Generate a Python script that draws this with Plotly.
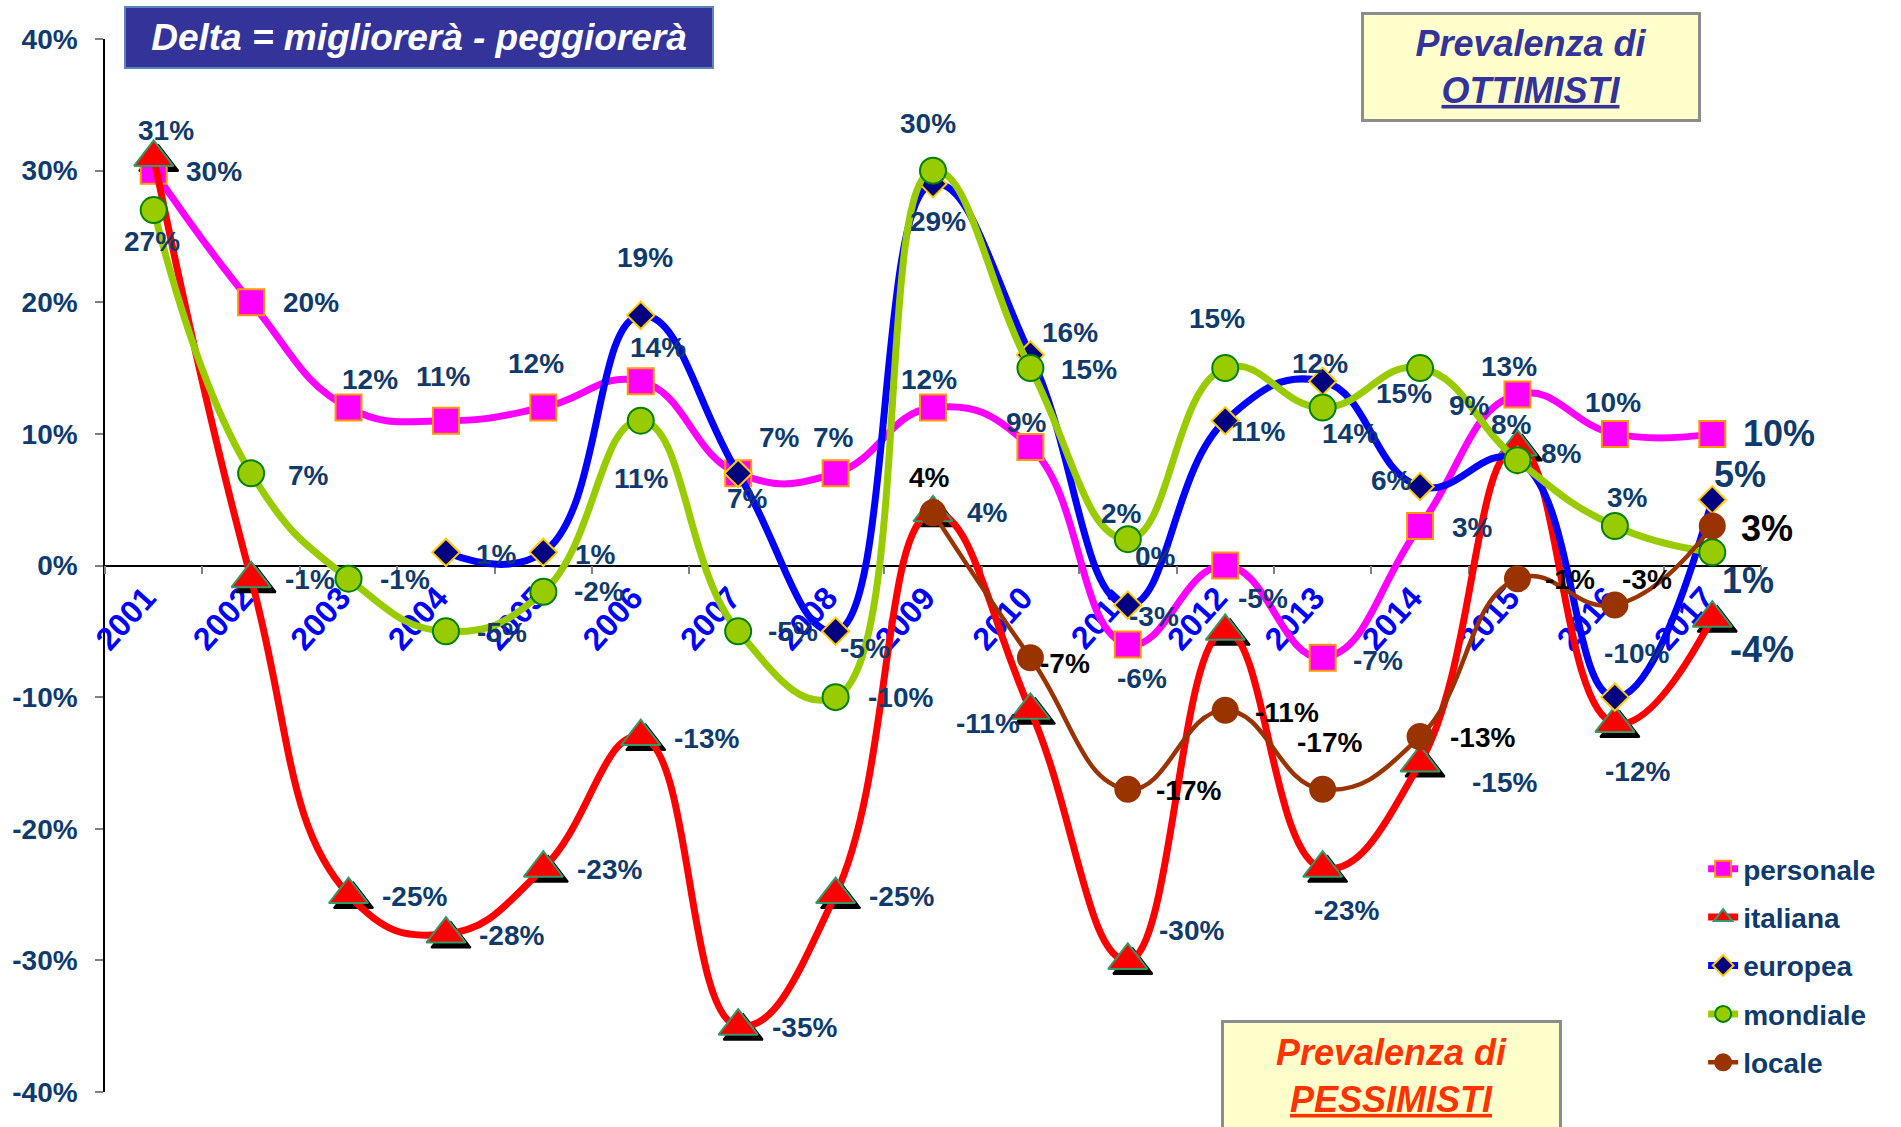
import plotly.graph_objects as go

# ---- data -------------------------------------------------------------
years = ["2001", "2002", "2003", "2004", "2005", "2006", "2007", "2008", "2009",
         "2010", "2011", "2012", "2013", "2014", "2015", "2016", "2017"]

personale = [30, 20, 12, 11, 12, 14, 7, 7, 12, 9, -6, 0, -7, 3, 13, 10, 10]
italiana = [31, -1, -25, -28, -23, -13, -35, -25, 4, -11, -30, -5, -23, -15, 9, -12, -4]
europea = [None, None, None, 1, 1, 19, 7, -5, 29, 16, -3, 11, 14, 6, 8, -10, 5]
mondiale = [27, 7, -1, -5, -2, 11, -5, -10, 30, 15, 2, 15, 12, 15, 8, 3, 1]
locale = [None, None, None, None, None, None, None, None, 4, -7, -17, -11, -17, -13, -1, -3, 3]

y_tick_values = [40, 30, 20, 10, 0, -10, -20, -30, -40]
y_tick_labels = ["40%", "30%", "20%", "10%", "0%", "-10%", "-20%", "-30%", "-40%"]

# category slots along the x axis
xpos = list(range(len(years)))

# ---- label placement (pixel offsets from each point: dx right, dy down) --
label_offsets = {
    "personale": [(60, 1), (60, 0), (21, -28), (-2, -44), (-7, -44), (17, -34), (41, -36),
                  (-2, -36), (-4, -28), (-4, -25), (14, 34), (-70, -9), (55, 3), (52, 1),
                  (-8, -28), (-2, -31), (67, 0)],
    "italiana": [(12, -27), (59, 1), (66, 2), (66, 1), (66, 1), (66, 2), (66, 1), (66, 2),
                 (54, 0), (-42, 13), (64, -30), (38, -33), (24, 42), (84, 20), (-48, -42),
                 (23, 48), (50, 31)],
    "europea": [None, None, None, (51, 2), (52, 2), (4, -58), (9, 25), (29, 17), (5, 38),
                (40, -22), (26, 12), (33, 11), (27, 52), (-29, -6), (-6, -36), (22, -44),
                (28, -25)],
    "mondiale": [(-2, 31), (57, 2), (56, 1), (56, 1), (56, 0), (1, 58), (55, 0), (65, 0),
                 (-5, -47), (59, 1), (-6, -26), (-8, -50), (-3, -44), (-16, 25), (44, -7),
                 (13, -29), (36, 28)],
    "locale": [None, None, None, None, None, None, None, None, (-4, -35), (35, 6), (61, 1),
               (62, 2), (7, -47), (62, 1), (53, 1), (32, -25), (55, 2)],
}

NAVY = "#0F3A6B"
FONT = "Liberation Sans, Arial, sans-serif"

series = [
    dict(name="personale", values=personale, color="#FF00FF", width=7,
         symbol="square", size=26, fill="#FF00FF", edge="#FF9900", text=NAVY),
    dict(name="italiana", values=italiana, color="#FF0000", width=7,
         symbol="triangle-up", size=34, fill="#FF0000", edge="#339966", text=NAVY),
    dict(name="europea", values=europea, color="#0000FF", width=7,
         symbol="diamond", size=21, fill="#000080", edge="#FFCC00", text=NAVY),
    dict(name="mondiale", values=mondiale, color="#99CC00", width=7,
         symbol="circle", size=26, fill="#99CC00", edge="#008000", text=NAVY),
    dict(name="locale", values=locale, color="#993300", width=4.5,
         symbol="circle", size=25, fill="#993300", edge="#993300", text="#000000"),
]

fig = go.Figure()

# drop shadow under the italiana triangles (its own overlay, range nudged by 5 px)
fig.add_trace(go.Scatter(
    x=xpos, y=italiana, mode="markers", xaxis="x2", yaxis="y2",
    showlegend=False, legendgroup="shadow", hoverinfo="skip",
    marker=dict(symbol="triangle-up", size=34, color="#000000",
                line=dict(color="#000000", width=2)),
))

for s in series:
    fig.add_trace(go.Scatter(
        x=xpos, y=s["values"], name=s["name"], legendgroup=s["name"],
        mode="lines+markers", xaxis="x3", yaxis="y3",
        line=dict(color=s["color"], width=s["width"], shape="spline", smoothing=1.3),
        marker=dict(symbol=s["symbol"], size=s["size"], color=s["fill"],
                    line=dict(color=s["edge"], width=2)),
    ))

# ---- value labels -----------------------------------------------------
annotations = []
last = len(years) - 1
for s in series:
    offs = label_offsets[s["name"]]
    for i, v in enumerate(s["values"]):
        if v is None:
            continue
        dx, dy = offs[i]
        annotations.append(dict(
            x=xpos[i], y=v, xref="x", yref="y", text=f"{v}%", showarrow=False,
            xshift=dx, yshift=-dy, xanchor="center", yanchor="middle",
            font=dict(family=FONT, size=36 if i == last else 28, color=s["text"],
                      weight="bold"),
        ))

# plot area in pixels: left 101, right 1761, top 39, bottom 1092
L, R, T, B = 101, 1761, 39, 1092


def px_x(p):
    return (p - L) / (R - L)


def px_y(p):
    return (B - p) / (B - T)


annotations.append(dict(
    xref="paper", yref="paper", x=px_x(416), y=px_y(37.5), xanchor="center", yanchor="middle",
    text="Delta = migliorerà - peggiorerà", showarrow=False,
    width=586, height=59, bgcolor="#333399", bordercolor="#5A86BE", borderwidth=2, borderpad=0,
    font=dict(family=FONT, size=37, color="#FFFFFF", weight="bold", style="italic"),
))
annotations.append(dict(
    xref="paper", yref="paper", x=px_x(1530), y=px_y(67), xanchor="center", yanchor="middle",
    text="Prevalenza di<br><u>OTTIMISTI</u>", showarrow=False,
    width=334, height=104, bgcolor="#FFFFCC", bordercolor="#8C8C8C", borderwidth=3, borderpad=0,
    font=dict(family=FONT, size=36, color="#333399", weight="bold", style="italic"),
))
annotations.append(dict(
    xref="paper", yref="paper", x=px_x(1390.5), y=px_y(1076), xanchor="center", yanchor="middle",
    text="Prevalenza di<br><u>PESSIMISTI</u>", showarrow=False,
    width=335, height=106, bgcolor="#FFFFCC", bordercolor="#8C8C8C", borderwidth=3, borderpad=0,
    font=dict(family=FONT, size=36, color="#FF3300", weight="bold", style="italic"),
))

# shadow offset of 5 px expressed in axis units
x_range = [xpos[0] - 0.5, xpos[-1] + 0.5]
y_range = [-40, 40]
sx = 5 * (x_range[1] - x_range[0]) / (R - L)
sy = 5 * (y_range[1] - y_range[0]) / (B - T)

boundaries = [p - 0.5 for p in xpos] + [xpos[-1] + 0.5]

fig.update_layout(
    width=1901, height=1127, autosize=False,
    margin=dict(l=L, r=1901 - R, t=T, b=1127 - B),
    paper_bgcolor="#FFFFFF", plot_bgcolor="rgba(0,0,0,0)",
    font=dict(family=FONT, color=NAVY),
    xaxis=dict(
        range=x_range, anchor="free", position=0.5,
        showgrid=False, zeroline=False, fixedrange=True,
        showline=True, linecolor="#000000", linewidth=1.5,
        tickmode="array", tickvals=xpos, ticktext=years, ticks="",
        minor=dict(tickmode="array", tickvals=boundaries, ticks="outside", ticklen=8,
                   tickcolor="#808080", tickwidth=1.5, showgrid=False),
        tickangle=-48, ticklabelshift=-8, layer="below traces",
        tickfont=dict(family=FONT, size=32, color="#0000FF", weight="bold"),
    ),
    yaxis=dict(
        range=y_range, showgrid=False, zeroline=False, fixedrange=True,
        showline=True, linecolor="#000000", linewidth=1.5,
        tickvals=y_tick_values, ticktext=y_tick_labels,
        ticks="outside", ticklen=8, tickcolor="#808080", tickwidth=1.5,
        ticklabelstandoff=12, layer="below traces",
        tickfont=dict(family=FONT, size=28, color=NAVY, weight="bold"),
    ),
    xaxis2=dict(overlaying="x", anchor="y2", range=[x_range[0] - sx, x_range[1] - sx],
                visible=False, fixedrange=True),
    yaxis2=dict(overlaying="y", anchor="x2", range=[y_range[0] + sy, y_range[1] + sy],
                visible=False, fixedrange=True),
    xaxis3=dict(overlaying="x", anchor="y3", range=x_range, visible=False, fixedrange=True),
    yaxis3=dict(overlaying="y", anchor="x3", range=y_range, visible=False, fixedrange=True),
    legend=dict(
        x=px_x(1703), y=px_y(844), xanchor="left", yanchor="top",
        traceorder="grouped", tracegroupgap=9, bgcolor="rgba(0,0,0,0)",
        font=dict(family=FONT, size=28, color=NAVY, weight="bold"),
        itemwidth=30,
    ),
    annotations=annotations,
    showlegend=True,
)

fig.write_html("out.html")
